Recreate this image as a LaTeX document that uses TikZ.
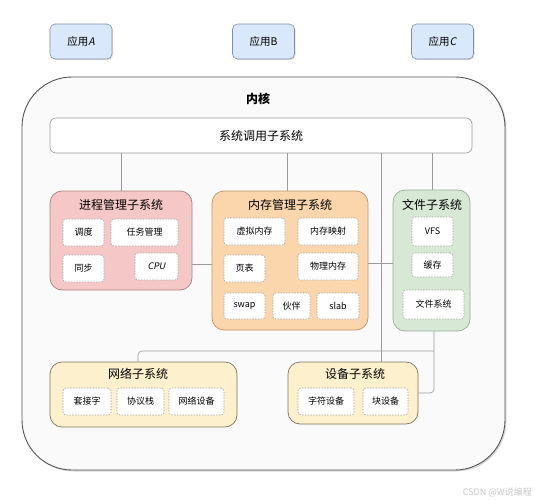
\documentclass[tikz,border=0pt]{standalone}
\usepackage{fontspec}
\setmainfont{Noto Sans CJK SC}
\newfontfamily\slfont{Noto Sans CJK SC}[FakeSlant=0.2]
\usetikzlibrary{shadows,calc}
\definecolor{appfill}{HTML}{DAE8FC}
\definecolor{appdraw}{HTML}{7D8FA8}
\definecolor{kfill}{HTML}{FAFAFA}
\definecolor{kdraw}{HTML}{555555}
\definecolor{pfill}{HTML}{F5C8C7}
\definecolor{pdraw}{HTML}{A88383}
\definecolor{mfill}{HTML}{FBD6AD}
\definecolor{mdraw}{HTML}{C09465}
\definecolor{ffill}{HTML}{D7E8D4}
\definecolor{fdraw}{HTML}{98AD96}
\definecolor{yfill}{HTML}{FDF0CC}
\definecolor{ydraw}{HTML}{7E745E}
\definecolor{lnc}{HTML}{9A9A9A}
\tikzset{
  appbox/.style={draw=appdraw, fill=appfill, rounded corners=5pt, line width=0.6pt,
    minimum width=62pt, minimum height=35pt, inner sep=0pt, font=\fontsize{10.5}{12}\selectfont,
    drop shadow={opacity=0.25, shadow xshift=1pt, shadow yshift=-1.2pt}},
  subbox/.style={draw=#1, rounded corners=12pt, line width=0.7pt, inner sep=0pt},
  inbox/.style={draw=gray!70, fill=white, dash pattern=on 1.5pt off 1.3pt, line width=0.6pt,
    rounded corners=3pt, inner sep=0pt, minimum height=27pt, font=\fontsize{9}{10}\selectfont},
  ttl/.style={font=\fontsize{12}{13}\selectfont, inner sep=0pt},
  conn/.style={draw=lnc, line width=0.6pt},
}
\begin{document}
\begin{tikzpicture}[x=1pt,y=-1pt]
\useasboundingbox (0,0) rectangle (535,500);
% apps
\node[appbox] (appA) at (81,41.5) {应用{\slfont A}};
\node[appbox] (appB) at (263.5,41.5) {应用B};
\node[appbox] (appC) at (442.5,41.5) {应用{\slfont C}};
% kernel
\node[draw=kdraw, fill=kfill, rounded corners=50pt, line width=0.9pt,
  minimum width=483pt, minimum height=393pt, inner sep=0pt,
  drop shadow={opacity=0.3, shadow xshift=1.5pt, shadow yshift=-1.5pt}] (kern) at (263.5,273.5) {};
\node[font=\bfseries\fontsize{12}{13}\selectfont] (kl) at (258,99) {内核};
% syscall
\node[draw=gray!80, fill=white, rounded corners=6pt, line width=0.6pt,
  minimum width=422pt, minimum height=35pt, inner sep=0pt, ttl] (sys) at (261,135.5) {系统调用子系统};
% subsystem boxes
\node[subbox=pdraw, fill=pfill, minimum width=142pt, minimum height=99pt] (proc) at (121,240.5) {};
\node[subbox=mdraw, fill=mfill, minimum width=156pt, minimum height=139pt] (mem) at (290,260.5) {};
\node[subbox=fdraw, fill=ffill, minimum width=77pt, minimum height=141pt] (file) at (431.5,260.5) {};
\node[subbox=ydraw, fill=yfill, minimum width=187pt, minimum height=65pt] (net) at (143.5,394.5) {};
\node[subbox=ydraw, fill=yfill, minimum width=130pt, minimum height=62pt] (dev) at (353,393) {};
% connectors
\draw[conn] (proc.north) -- (proc.north |- sys.south);
\draw[conn] ([xshift=-3pt]mem.north) -- ([xshift=-3pt]mem.north |- sys.south);
\draw[conn] ([xshift=28pt]dev.north) -- ([xshift=28pt]dev.north |- sys.south);
\draw[conn] ([xshift=0.5pt]file.north) -- ([xshift=0.5pt]file.north |- sys.south);
\coordinate (pm) at (0,264);
\draw[conn] (proc.east |- pm) -- (mem.west |- pm);
\coordinate (mf) at (0,263);
\draw[conn] (mem.east |- mf) -- (file.west |- mf);
\draw[conn, rounded corners=4pt] ([xshift=2.5pt]file.south) |- (dev.east);
\coordinate (nj) at (0,351);
\coordinate (fj) at ([xshift=2.5pt]file.south |- nj);
\draw[conn, rounded corners=4pt] ([xshift=-5.5pt]net.north) |- (fj);
% titles
\node[ttl] (tp) at (121,205) {进程管理子系统};
\node[ttl] (tm) at (290,205) {内存管理子系统};
\node[ttl] (tf) at (432,205) {文件子系统};
\node[ttl] (tn) at (138,374) {网络子系统};
\node[ttl] (td) at (355,374) {设备子系统};
% process inner
\node[inbox, minimum width=41pt] (p1) at (83.5,232.5) {调度};
\node[inbox, minimum width=67pt] (p2) at (144.5,232.5) {任务管理};
\node[inbox, minimum width=41pt] (p3) at (83.5,268.5) {同步};
\node[inbox, minimum width=43pt] (p4) at (156.5,266.5) {{\slfont CPU}};
% memory inner
\node[inbox, minimum width=61pt] (m1) at (254.5,231.5) {虚拟内存};
\node[inbox, minimum width=60pt] (m2) at (328,231.5) {内存映射};
\node[inbox, minimum width=41pt] (m3) at (244.5,268.5) {页表};
\node[inbox, minimum width=60pt] (m4) at (328,266.5) {物理内存};
\node[inbox, minimum width=41pt, minimum height=26pt] (m5) at (244.5,306) {swap};
\node[inbox, minimum width=37pt, minimum height=26pt] (m6) at (291.5,306) {伙伴};
\node[inbox, minimum width=42pt, minimum height=26pt] (m7) at (338,306) {slab};
% file inner
\node[inbox, minimum width=41pt, minimum height=29pt] (f1) at (432.5,231.5) {VFS};
\node[inbox, minimum width=41pt, minimum height=24pt] (f2) at (432.5,265) {缓存};
\node[inbox, minimum width=61pt, minimum height=29pt] (f3) at (433.5,304.5) {文件系统};
% network inner
\node[inbox, minimum width=48pt] (n1) at (87,401.5) {套接字};
\node[inbox, minimum width=47pt] (n2) at (140.5,401.5) {协议栈};
\node[inbox, minimum width=55pt] (n3) at (196.5,401.5) {网络设备};
% device inner
\node[inbox, minimum width=56pt] (d1) at (326,401.5) {字符设备};
\node[inbox, minimum width=45pt] (d2) at (385.5,401.5) {块设备};
% watermark
\node[anchor=east, text=gray!45, font=\fontsize{9}{10}\selectfont, inner sep=0pt] (wm) at (532,492) {CSDN @W说编程};
\end{tikzpicture}
\end{document}
